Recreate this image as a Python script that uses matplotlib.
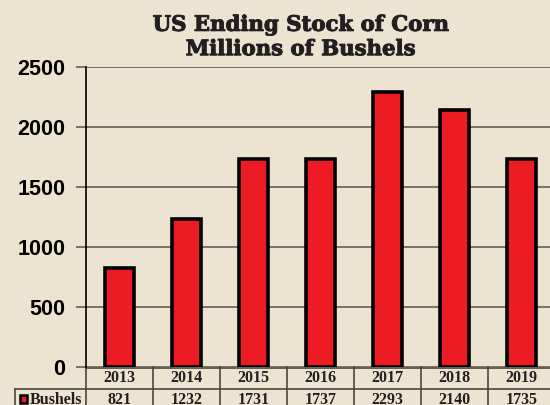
#!/usr/bin/env python3

from matplotlib import pyplot as plt
from matplotlib import patheffects
from matplotlib.transforms import blended_transform_factory
from matplotlib.patches import Rectangle

years = ["2013", "2014", "2015", "2016", "2017", "2018", "2019"]
bushels = [821, 1232, 1731, 1737, 2293, 2140, 1735]
series_name = "Bushels"
title = "US Ending Stock of Corn\nMillions of Bushels"

bg = "#ede3d1"
red = "#ed1c24"
W, H = 550, 405


def main():
    fig = plt.figure(figsize=(5.5, 4.05), dpi=100, facecolor=bg)
    ax = fig.add_axes([86 / W, 1 - 367 / H, 469 / W, 300 / H], facecolor=bg)

    x = list(range(len(years)))
    ax.bar(x, bushels, width=0.43, color=red, edgecolor="black", linewidth=2.6, zorder=3)

    ax.set_xlim(-0.5, len(years) - 0.5)
    ax.set_ylim(0, 2500)
    ax.set_yticks(range(0, 2501, 500))
    ax.yaxis.grid(True, color="#6e6a5c", linewidth=1.3, zorder=0)
    ax.tick_params(axis="y", length=7, width=1.3, color="#6e6a5c", pad=8,
                   labelsize=15.5)
    for lab in ax.get_yticklabels():
        lab.set_fontweight("bold")
        lab.set_fontfamily("Liberation Sans")
    ax.tick_params(axis="x", bottom=False, labelbottom=False)
    for side in ["top", "right", "bottom"]:
        ax.spines[side].set_visible(False)
    ax.spines["left"].set_linewidth(1.2)

    # data table under the axis
    tr = blended_transform_factory(ax.transData, fig.transFigure)
    fy = lambda py: 1 - py / H
    line_kw = dict(color="#4a463c", linewidth=1.2, clip_on=False)
    ax.plot([-0.5, 6.5], [fy(367.5), fy(367.5)], transform=tr, **line_kw)
    for i in range(len(years) + 1):
        ax.plot([i - 0.5, i - 0.5], [fy(367), fy(410)], transform=tr, **line_kw)
    ftr = fig.transFigure
    fig.add_artist(plt.Line2D([15 / W, 1], [fy(389), fy(389)], **line_kw))
    fig.add_artist(plt.Line2D([15 / W, 15 / W], [fy(389), 0], **line_kw))

    cell_font = dict(family="Liberation Serif", fontweight="bold", fontsize=11.5,
                     ha="center", va="center", transform=tr, color="#231f20")
    for i, (yr, v) in enumerate(zip(years, bushels)):
        ax.text(i, fy(378), yr, **cell_font)
        ax.text(i, fy(400), str(v), **cell_font)

    fig.add_artist(Rectangle((19.5 / W, fy(403)), 7.5 / W, 8.5 / H, transform=ftr,
                             facecolor=red, edgecolor="black", linewidth=1.8))
    fig.text(30 / W, fy(400), series_name, family="Liberation Serif", fontweight="bold",
             fontsize=11.5, ha="left", va="center", color="#231f20")

    t = fig.text(301 / W, fy(37), title, family="DejaVu Serif", fontweight="bold",
                 fontsize=15.3, ha="center", va="center", linespacing=1.27, color="#231f20")
    # reference title font is heavier than DejaVu Serif Bold
    t.set_path_effects([patheffects.withStroke(linewidth=0.7, foreground="#231f20")])

    fig.savefig("out.png", facecolor=bg)


if __name__ == "__main__":
    main()
